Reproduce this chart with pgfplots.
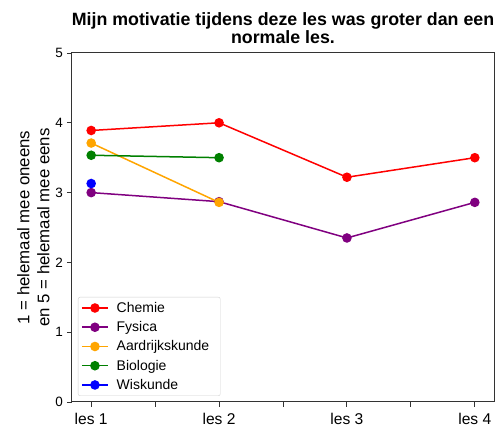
\documentclass[border=0pt]{standalone}
\usepackage{pgfplots}
\pgfplotsset{compat=1.18}
\usepackage{fontspec}
\setmainfont{Liberation Sans}
\definecolor{cred}{HTML}{FF0000}
\definecolor{cpurple}{HTML}{800080}
\definecolor{corange}{HTML}{FFA500}
\definecolor{cgreen}{HTML}{008000}
\definecolor{cblue}{HTML}{0000FF}
\begin{document}
\begin{tikzpicture}
\begin{axis}[
  scale only axis,
  width=422pt, height=349pt,
  xmin=0.85, xmax=4.15,
  ymin=0, ymax=5,
  xtick={1,1.5,2,2.5,3,3.5,4},
  xticklabels={les 1,,les 2,,les 3,,les 4},
  ytick={0,1,2,3,4,5},
  xtick pos=bottom, ytick pos=left,
  tick align=outside,
  major tick length=5pt,
  tick style={black!80, line width=0.9pt},
  axis line style={black!80, line width=1pt},
  /pgf/number format/assume math mode=true,
  xticklabel style={font=\fontsize{15.6}{18}\selectfont, inner sep=0pt, yshift=-6pt},
  yticklabel style={font=\fontsize{13.5}{16}\selectfont, inner sep=0pt, xshift=-4pt},
  title={Mijn motivatie tijdens deze les was groter dan een\\normale les.},
  title style={font=\bfseries\fontsize{17.8}{18}\selectfont, align=center, at={(0.5,1)}, anchor=south, inner sep=0pt, yshift=3pt},
  ylabel={1 = helemaal mee oneens\\en 5 = helemaal mee eens},
  ylabel style={font=\fontsize{16.8}{20}\selectfont, align=center, at={(axis description cs:-0.053,0.5)}, anchor=south, inner sep=0pt},
  every axis plot/.append style={line width=1.5pt, mark=*, mark size=4pt, mark options={solid}},
  legend style={at={(axis description cs:0.0142,0.0172)}, anchor=south west, draw=black!18, rounded corners=2pt, font=\fontsize{14}{16}\selectfont, row sep=3.6pt, inner sep=3pt, cells={anchor=west}, /tikz/every even column/.append style={column sep=0pt}},
  legend cell align=left,
  legend image code/.code={\draw[mark repeat=2,mark phase=2] plot coordinates {(0pt,0pt) (13pt,0pt) (26pt,0pt)};},
  legend style={nodes={inner xsep=8pt}},
]
\addplot[color=cred] coordinates {(1,3.89) (2,4.00) (3,3.22) (4,3.50)};
\addlegendentry{Chemie}
\addplot[color=cpurple] coordinates {(1,3.00) (2,2.87) (3,2.35) (4,2.86)};
\addlegendentry{Fysica}
\addplot[color=corange] coordinates {(1,3.71) (2,2.86)};
\addlegendentry{Aardrijkskunde}
\addplot[color=cgreen] coordinates {(1,3.535) (2,3.50)};
\addlegendentry{Biologie}
\addplot[color=cblue] coordinates {(1,3.13)};
\addlegendentry{Wiskunde}
\end{axis}
\pgfresetboundingbox
\path[use as bounding box] (current axis.south west) ++(-72pt,-28pt) rectangle ++(498pt,430pt);
\end{tikzpicture}
\end{document}
